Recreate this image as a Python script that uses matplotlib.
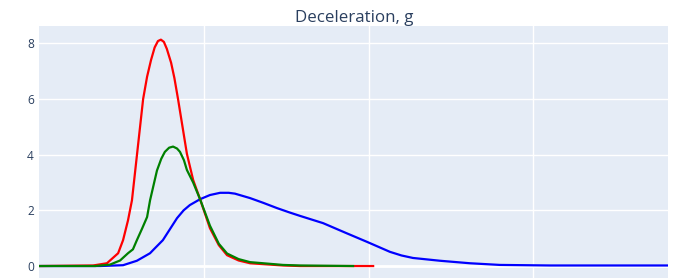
import matplotlib.pyplot as plt

# time axis (ms)
t_red = [0, 16.3, 20.5, 23.9, 25.4, 26.9, 28.1, 31.5, 32.7, 33.9, 35.0, 36.0,
         36.9, 37.8, 38.7, 40.0, 41.0, 42.1, 44.8, 46.7, 48.8, 51.8, 54.5,
         57.0, 60.5, 64.0, 74.0, 79.2, 101.4]
g_red = [0, 0.02, 0.1, 0.46, 0.93, 1.64, 2.36, 6.0, 6.8, 7.4, 7.85, 8.08,
         8.13, 8.05, 7.8, 7.3, 6.75, 6.0, 4.03, 3.09, 2.4, 1.36, 0.75,
         0.39, 0.2, 0.1, 0.02, 0.0, 0.0]

t_green = [0, 16.9, 21.4, 24.5, 26.9, 28.4, 29.6, 31.2, 32.7, 33.6, 35.7,
           37.0, 38.1, 39.4, 40.6, 41.8, 42.7, 43.9, 44.8, 46.7, 48.8, 51.8,
           54.5, 57.0, 60.5, 64.0, 74.0, 79.2, 95.3]
g_green = [0, 0.0, 0.05, 0.2, 0.46, 0.6, 0.93, 1.35, 1.76, 2.36, 3.43,
           3.85, 4.1, 4.25, 4.29, 4.22, 4.1, 3.8, 3.45, 3.0, 2.4, 1.45,
           0.8, 0.45, 0.25, 0.14, 0.04, 0.02, 0.0]

t_blue = [0, 18.4, 25.4, 29.6, 33.6, 34.5, 37.5, 41.8, 43.8, 45.7, 48.8,
          51.8, 54.9, 57.5, 59.4, 64.0, 68.0, 72.2, 76.1, 79.2, 86.2, 92.9,
          99.5, 106.5, 110.0, 113.5, 121.7, 130.8, 139.9, 155.2, 191.0]
g_blue = [0, 0.0, 0.03, 0.19, 0.46, 0.57, 0.93, 1.72, 2.0, 2.19, 2.4,
          2.55, 2.63, 2.63, 2.6, 2.44, 2.27, 2.08, 1.92, 1.8, 1.54, 1.2,
          0.87, 0.51, 0.38, 0.29, 0.19, 0.1, 0.04, 0.02, 0.02]

y_ticks = [0, 2, 4, 6, 8]
x_grid = [50, 100, 150]

txt = '#2a3f5f'
plt.rcParams['font.family'] = ['Open Sans', 'DejaVu Sans']

fig = plt.figure(figsize=(6.75, 2.8), dpi=100)
ax = fig.add_axes([0.0585, 0.0071, 0.9311, 0.901])
ax.set_facecolor('#E5ECF6')

ax.plot(t_blue, g_blue, color='blue', lw=1.6, zorder=3)
ax.plot(t_red, g_red, color='red', lw=1.6, zorder=4)
ax.plot(t_green, g_green, color='green', lw=1.6, zorder=5)

ax.set_xlim(0, 191)
ax.set_ylim(-0.43, 8.63)
ax.set_xticks(x_grid)
ax.set_xticklabels([])
ax.set_yticks(y_ticks)
ax.grid(color='white', linewidth=1, zorder=1)
ax.set_axisbelow(True)
ax.axhline(0, color='white', linewidth=2, zorder=2)
ax.tick_params(length=0, pad=4, labelsize=8.6, labelcolor=txt)
for s in ax.spines.values():
    s.set_visible(False)

fig.text(0.525, 0.937, 'Deceleration, g', ha='center', va='center',
         fontsize=12.2, color=txt)

fig.savefig('out.png', dpi=100, facecolor='white')
